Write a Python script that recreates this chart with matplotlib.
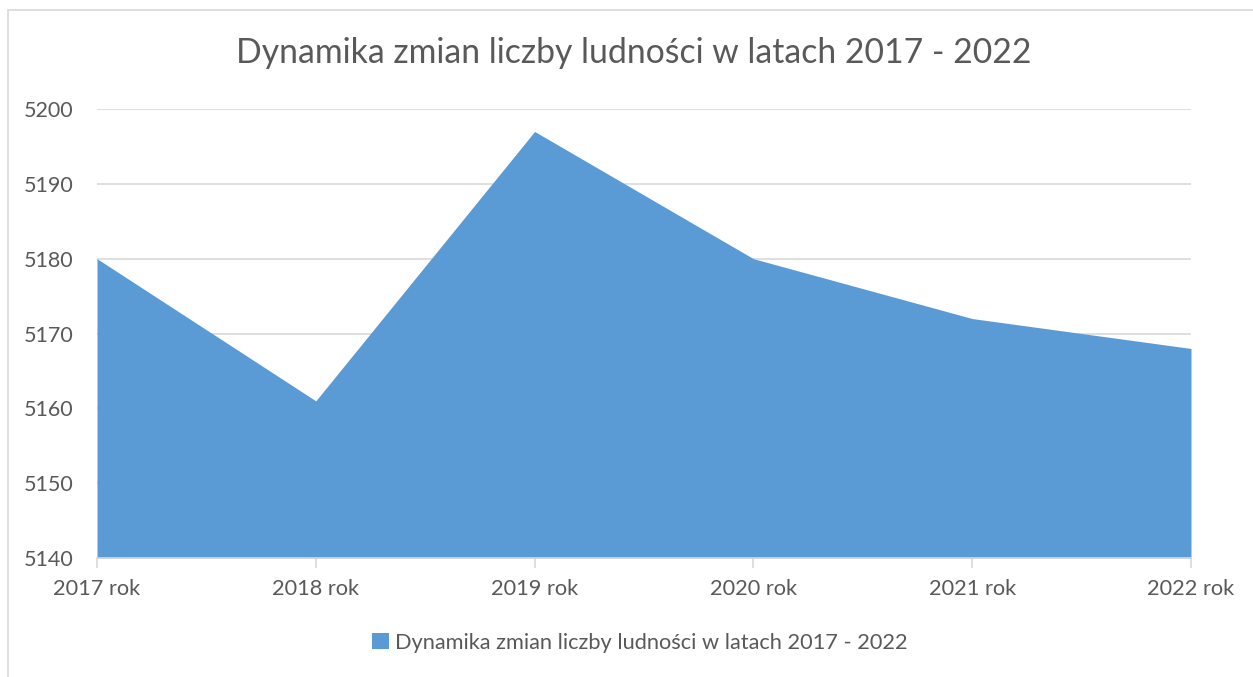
import matplotlib
matplotlib.use("Agg")
import matplotlib.pyplot as plt
from matplotlib.patches import Rectangle

categories = ["2017 rok", "2018 rok", "2019 rok", "2020 rok", "2021 rok", "2022 rok"]
values = [5180, 5161, 5197, 5180, 5172, 5168]
y_ticks = [5140, 5150, 5160, 5170, 5180, 5190, 5200]
title = "Dynamika zmian liczby ludności w latach 2017 - 2022"

plt.rcParams['font.family'] = ['Lato', 'DejaVu Sans']
txt = "#595959"
blue = "#5B9BD5"
grid = "#D9D9D9"

fig = plt.figure(figsize=(12.53, 6.77), dpi=100)
# outer chart frame
fig.patches.append(Rectangle((8/1253, -0.1), 1.2, 1 - 10/677 + 0.1, transform=fig.transFigure,
                             fill=False, edgecolor=grid, linewidth=1.2, zorder=0))

ax = fig.add_axes([97/1253, 1 - 558/677, (1191 - 97)/1253, (558 - 109)/677])
x = list(range(len(categories)))
ax.fill_between(x, y_ticks[0], values, color=blue, linewidth=0, zorder=2, label=title)
ax.set_xlim(0, len(categories) - 1)
ax.set_ylim(y_ticks[0], y_ticks[-1])
ax.set_yticks(y_ticks)
ax.set_xticks(x)
ax.set_xticklabels(categories)
ax.grid(axis='y', color=grid, linewidth=1.2, zorder=1)
ax.set_axisbelow(True)
for s in ['top', 'right', 'left']:
    ax.spines[s].set_visible(False)
ax.spines['bottom'].set_color(grid)
ax.spines['bottom'].set_linewidth(1.2)
ax.tick_params(axis='y', length=0, pad=17, labelsize=15.5, labelcolor=txt)
ax.tick_params(axis='x', length=7, width=1.2, color=grid, pad=8, labelsize=15.7, labelcolor=txt)

fig.text(634/1253, 1 - 53/677, title, ha='center', va='center', fontsize=24.3, color=txt)
leg = fig.legend(loc='center', bbox_to_anchor=(640/1253, 1 - 643/677), frameon=False,
                 fontsize=15.7, labelcolor=txt, handlelength=0.75, handleheight=0.75,
                 handletextpad=0.3)

fig.savefig("out.png", dpi=100)
